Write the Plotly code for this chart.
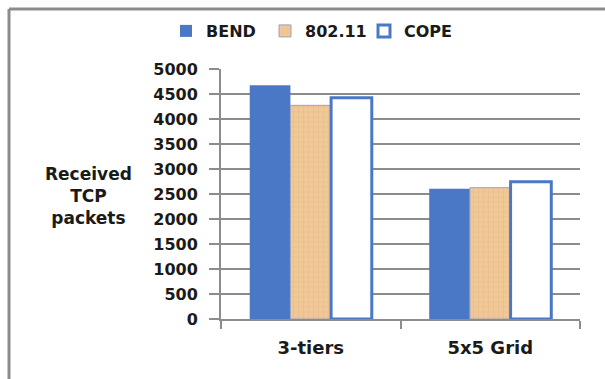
import plotly.graph_objects as go

# Received TCP packets per topology and protocol
categories = ["3-tiers", "5x5 Grid"]
bend = [4680, 2610]
ieee80211 = [4280, 2630]
cope = [4430, 2750]
y_ticks = list(range(0, 5001, 500))

W, H = 605, 379
L, R, T, B = 221, 25, 67, 60
pw, ph = W - L - R, H - T - B

def px_x(x):
    return (x - L) / pw

def px_y(y):
    return (H - B - y) / ph

font_family = "DejaVu Sans"
blue = "#4A78C6"
grid = "#8C8C8C"
text_color = "#1A1A1A"

fig = go.Figure()
fig.add_trace(go.Bar(
    name="BEND", x=categories, y=bend,
    marker=dict(color=blue, line=dict(width=0)),
))
fig.add_trace(go.Bar(
    name="802.11", x=categories, y=ieee80211,
    marker=dict(
        color="#F0C996",
        line=dict(color="#9AA3B8", width=1),
        pattern=dict(shape="+", fgcolor="#D9967C", bgcolor="#F0C996",
                     size=5, solidity=0.12),
    ),
))
fig.add_trace(go.Bar(
    name="COPE", x=categories, y=cope,
    marker=dict(color="white", line=dict(color=blue, width=3)),
))

fig.update_layout(
    width=W, height=H,
    margin=dict(l=L, r=R, t=T, b=B, pad=0),
    paper_bgcolor="white", plot_bgcolor="white",
    barmode="group", bargap=0.32, bargroupgap=0,
    font=dict(family=font_family, size=17, color=text_color, weight="bold"),
    legend=dict(
        orientation="h", xref="container", yref="container",
        x=166 / W, xanchor="left", y=1 - 31 / H, yanchor="middle",
        font=dict(size=16, weight="bold"), itemwidth=30, entrywidth=54,
        traceorder="normal", bgcolor="rgba(0,0,0,0)",
    ),
    showlegend=True,
)

fig.update_yaxes(
    range=[0, 5000], tickvals=y_ticks, ticktext=[str(v) for v in y_ticks],
    showgrid=True, gridcolor=grid, gridwidth=2,
    showline=True, linecolor=grid, linewidth=2,
    ticks="outside", ticklen=10, tickcolor=grid, tickwidth=2,
    ticklabelstandoff=8, zeroline=False,
    tickfont=dict(size=16, weight="bold"),
)
fig.update_xaxes(
    showline=True, linecolor=grid, linewidth=2,
    ticks="outside", tickson="boundaries", ticklen=8, tickcolor=grid, tickwidth=2,
    tickfont=dict(size=18, weight="bold"), ticklabelstandoff=11,
)

# Vertical axis title, written horizontally to the left of the tick labels
fig.add_annotation(
    text="Received<br>TCP<br>packets", xref="paper", yref="paper",
    x=px_x(88), y=px_y(195), xanchor="center", yanchor="middle",
    showarrow=False, font=dict(size=17, weight="bold"), align="center",
)

# Chart frame (top and left edges)
fig.add_shape(type="line", xref="paper", yref="paper",
              x0=px_x(9), x1=px_x(W + 5), y0=px_y(6), y1=px_y(6),
              line=dict(color=grid, width=3))
fig.add_shape(type="line", xref="paper", yref="paper",
              x0=px_x(9), x1=px_x(9), y0=px_y(6), y1=px_y(H + 5),
              line=dict(color=grid, width=3))

fig.write_html("out.html")
